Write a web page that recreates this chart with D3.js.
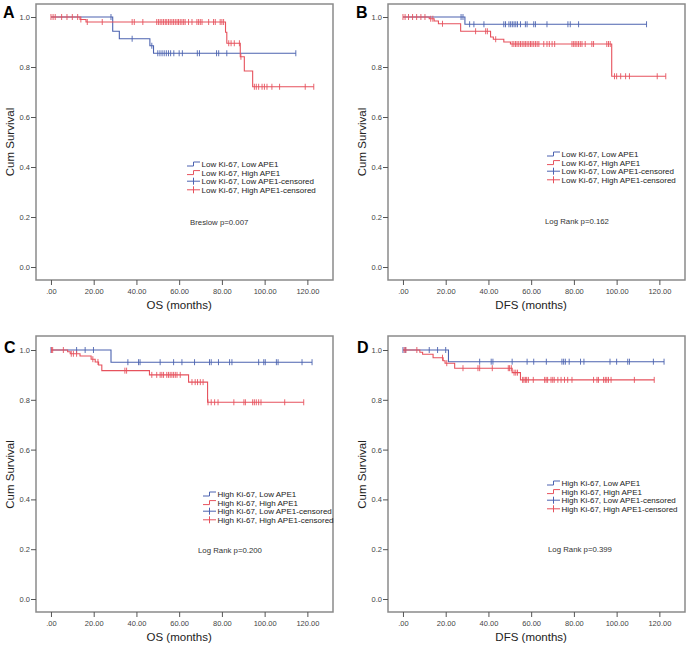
<!DOCTYPE html>
<html><head><meta charset="utf-8">
<script src="https://cdn.jsdelivr.net/npm/d3@7"></script>
<style>body{margin:0;background:#fff}svg{display:block}text{font-family:"Liberation Sans",Arial,sans-serif}</style>
</head><body><svg id="c" width="689" height="648"></svg>
<script>
// ---------- data ----------
const xTicks = [0, 20, 40, 60, 80, 100, 120];
const xTickLabels = [".00", "20.00", "40.00", "60.00", "80.00", "100.00", "120.00"];
const yTicks = [0, 0.2, 0.4, 0.6, 0.8, 1.0];
const yTickLabels = ["0.0", "0.2", "0.4", "0.6", "0.8", "1.0"];

// Panel A (OS, Low Ki-67)
const A_lowSteps  = [[0,1],[28.9,0.943],[32,0.913],[46.3,0.885],[48,0.855]];
const A_lowEnd = 114.6;
const A_lowCens   = [28.1,38,47.2,50,51,52,53,54,55,56,57.5,60,61.5,68.5,69.5,77.5,78.5,82.3,114.6];
const A_highSteps = [[0,1],[13.6,0.99],[16.4,0.98],[81.7,0.939],[82.3,0.895],[88.6,0.841],[90.5,0.784],[94.4,0.721]];
const A_highEnd = 123;
const A_highCens  = [0,1,2,5,7.5,10,12.5,14,17,24,38,39,43,49.5,50.3,51.1,51.9,52.7,53.5,54.2,55,55.8,56.6,57.4,58.2,59,59.7,60.5,61.3,62.1,62.8,64.4,66,68.3,69.1,69.9,70.7,73.8,76.1,76.9,79.2,80,80.8,83.2,84.3,85.8,88.2,88.9,95.2,96.1,97.2,98.8,99.9,101.1,103.4,107,119,123];

// Panel B (DFS, Low Ki-67)
const B_lowSteps  = [[0,1],[29,0.971]];
const B_lowEnd = 114;
const B_lowCens   = [27.2,28.1,31.2,33.2,37.9,47.2,48,49.6,50.4,51.2,52,52.8,53.6,55,57.3,58.1,61.2,62,67.4,77.2,78.3,82.2,114];
const B_highSteps = [[0,1],[12.3,0.993],[14.6,0.984],[16.6,0.973],[27,0.943],[41,0.92],[42.3,0.911],[47.2,0.9],[50.3,0.892],[97.7,0.763]];
const B_highEnd = 123;
const B_highCens  = [0,1,2.6,4.5,6.4,8.4,10.3,13,14,18.5,34,38.7,39.5,43.4,51.1,51.9,52.7,53.4,54.2,55,55.8,56.6,57.3,58.1,58.9,59.7,60.4,61.2,62,62.8,63.6,65.9,67.4,68.5,69.8,71,79.1,79.9,80.6,81.4,82.2,83,83.8,85.3,88.4,89.2,95.4,96.2,97,99,100,101.9,104.2,106,119,123];

// Panel C (OS, High Ki-67)
const C_lowSteps  = [[0,1],[28.1,0.951]];
const C_lowEnd = 122.2;
const C_lowCens   = [0,12,16,19.9,36,41,41.7,51.1,57.4,61.3,67.2,74.2,75,78.4,83.6,84.7,97.2,99.6,100.3,105.5,106.3,117.5,122.2];
const C_highSteps = [[0,1],[7.8,0.993],[9,0.985],[13.6,0.976],[18.8,0.963],[20.7,0.952],[22.3,0.94],[23.8,0.917],[46.1,0.9],[64.4,0.871],[73.3,0.79]];
const C_highEnd = 118.3;
const C_highCens  = [0.3,0.8,5.8,9.5,10.5,12,19.6,22,34.6,35.4,47.2,49.5,51.1,51.9,52.7,54.2,55,55.8,56.6,57.4,58.2,59,60.5,66,67.5,68.6,69.9,71.2,73.5,75,76.6,78.2,85.6,90.3,91,94.4,95.2,96.1,97.2,98.3,109.4,118.3];

// Panel D (DFS, High Ki-67)
const D_lowSteps  = [[0,1],[21.3,0.953]];
const D_lowEnd = 122.2;
const D_lowCens   = [0,1.1,12.3,16.2,20,35.9,41.3,42.1,51.1,58.1,61.2,67.1,74.4,75.2,76,77.8,83.1,84.7,96.9,100,105.2,106,117.2,122.2];
const D_highSteps = [[0,1],[7.9,0.991],[9.2,0.983],[14.1,0.969],[18.8,0.957],[19.7,0.947],[24.2,0.927],[51.1,0.909],[55,0.88]];
const D_highEnd = 117.6;
const D_highCens  = [0.6,1.4,6.5,18.5,20.5,28.1,35.1,35.9,41.8,49.3,49.9,50.7,52,52.8,53.6,56,56.6,57.3,57.9,58.7,61,66.3,67,67.7,69.3,70.1,70.8,72.5,74,75.6,77.1,79.1,89.2,90.8,91.5,93.9,94.7,95.4,96.2,97.4,108.3,117.6];

const legendLow  = ["Low Ki-67, Low APE1","Low Ki-67, High APE1","Low Ki-67, Low APE1-censored","Low Ki-67, High APE1-censored"];
const legendHigh = ["High Ki-67, Low APE1","High Ki-67, High APE1","High Ki-67, Low APE1-censored","High Ki-67, High APE1-censored"];
const panelLetters = ["A","B","C","D"];
const xTitles = ["OS (months)","DFS (months)","OS (months)","DFS (months)"];
const pTexts = ["Breslow p=0.007","Log Rank p=0.162","Log Rank p=0.200","Log Rank p=0.399"];

// ---------- layout ----------
const BLUE = "#4c63b0", RED = "#e6525d", AX = "#8a8a8a";
const panels = [
  {L:36, R:333, T:4, y1:17, y0:267, B:280, lab:[3,18], leg:{x:187,y:164,dy:8.6}, p:[190,225],
   low:[A_lowSteps,A_lowEnd,A_lowCens], high:[A_highSteps,A_highEnd,A_highCens], legend:legendLow},
  {L:388, R:685, T:4, y1:17, y0:267, B:280, lab:[356,18], leg:{x:547,y:154,dy:8.6}, p:[545,224],
   low:[B_lowSteps,B_lowEnd,B_lowCens], high:[B_highSteps,B_highEnd,B_highCens], legend:legendLow},
  {L:36, R:333, T:336, y1:350, y0:599, B:612, lab:[4,353], leg:{x:203,y:494,dy:8.6}, p:[198,553],
   low:[C_lowSteps,C_lowEnd,C_lowCens], high:[C_highSteps,C_highEnd,C_highCens], legend:legendHigh},
  {L:388, R:685, T:336, y1:350, y0:599, B:612, lab:[357,353], leg:{x:547,y:483,dy:8.6}, p:[548,552],
   low:[D_lowSteps,D_lowEnd,D_lowCens], high:[D_highSteps,D_highEnd,D_highCens], legend:legendHigh}
];

const svg = d3.select("#c");

function survAt(steps, t){ let s = steps[0][1]; for (const [tt,v] of steps){ if (tt <= t) s = v; } return s; }

panels.forEach((P, i) => {
  const g = svg.append("g");
  const x = d3.scaleLinear().domain([-7, 132]).range([P.L, P.R]);
  const y = d3.scaleLinear().domain([0, 1]).range([P.y0, P.y1]);

  // box
  g.append("rect").attr("x", P.L).attr("y", P.T).attr("width", P.R - P.L).attr("height", P.B - P.T)
    .attr("fill", "none").attr("stroke", AX).attr("stroke-width", 1.5);

  // y axis
  const ya = g.append("g").attr("transform", `translate(${P.L},0)`)
    .call(d3.axisLeft(y).tickValues(yTicks).tickFormat((d, k) => yTickLabels[k]).tickSize(5).tickPadding(1));
  ya.select(".domain").remove();
  ya.selectAll("line").attr("stroke", "#555");
  ya.selectAll("text").attr("font-size", 7.5).attr("fill", "#444").attr("font-family", "Liberation Sans, Arial");

  // x axis
  const xa = g.append("g").attr("transform", `translate(0,${P.B})`)
    .call(d3.axisBottom(x).tickValues(xTicks).tickFormat((d, k) => xTickLabels[k]).tickSize(5).tickPadding(4));
  xa.select(".domain").remove();
  xa.selectAll("line").attr("stroke", "#555");
  xa.selectAll("text").attr("font-size", 7.5).attr("fill", "#444").attr("font-family", "Liberation Sans, Arial");

  // titles
  g.append("text").attr("x", (x(0) + x(120)) / 2 + 0).attr("y", P.B + 29).attr("text-anchor", "middle")
    .attr("font-size", 11.5).attr("fill", "#222").text(xTitles[i]);
  g.append("text").attr("transform", `translate(${P.L - 22},${(P.y0 + P.y1) / 2}) rotate(-90)`)
    .attr("text-anchor", "middle").attr("font-size", 11.5).attr("fill", "#222").text("Cum Survival");
  g.append("text").attr("x", P.lab[0]).attr("y", P.lab[1]).attr("font-size", 16).attr("font-weight", "bold")
    .attr("fill", "#000").text(panelLetters[i]);

  // curves
  const line = d3.line().x(d => x(d[0])).y(d => y(d[1])).curve(d3.curveStepAfter);
  [[P.low, BLUE], [P.high, RED]].forEach(([[steps, end, cens], col]) => {
    const pts = steps.concat([[end, steps[steps.length - 1][1]]]);
    g.append("path").attr("d", line(pts)).attr("fill", "none").attr("stroke", col).attr("stroke-width", 1.1);
    g.selectAll(null).data(cens).enter().append("line")
      .attr("x1", d => x(d)).attr("x2", d => x(d))
      .attr("y1", d => y(survAt(steps, d)) - 3).attr("y2", d => y(survAt(steps, d)) + 3)
      .attr("stroke", col).attr("stroke-width", 0.9);
  });

  // legend
  const lg = g.append("g");
  const cols = [BLUE, RED, BLUE, RED];
  P.legend.forEach((t, k) => {
    const yy = P.leg.y + k * P.leg.dy, x0 = P.leg.x, x1 = P.leg.x + 13;
    if (k < 2) {
      lg.append("path").attr("d", `M${x0},${yy + 2}H${x0 + 6.5}V${yy - 2}H${x1}`)
        .attr("fill", "none").attr("stroke", cols[k]).attr("stroke-width", 1);
    } else {
      lg.append("path").attr("d", `M${x0},${yy}H${x1}M${x0 + 6.5},${yy - 3.5}V${yy + 3.5}`)
        .attr("fill", "none").attr("stroke", cols[k]).attr("stroke-width", 1);
    }
    lg.append("text").attr("x", x1 + 1.5).attr("y", yy + 3).attr("font-size", 8).attr("fill", "#222").text(t);
  });
  g.append("text").attr("x", P.p[0]).attr("y", P.p[1]).attr("font-size", 7.8).attr("fill", "#333").text(pTexts[i]);
});
</script></body></html>
